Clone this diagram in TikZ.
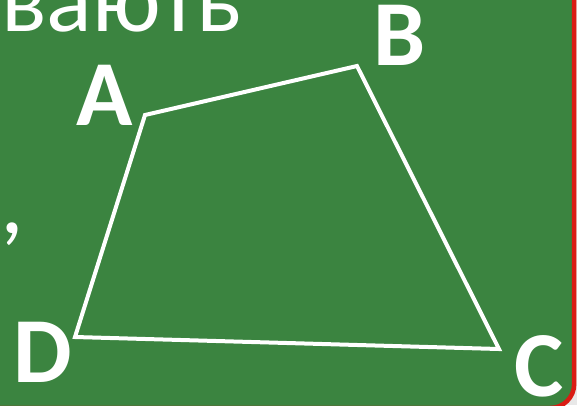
\documentclass[tikz,border=0pt]{standalone}
\usepackage{fontspec}
\setmainfont{Carlito}
\definecolor{board}{RGB}{59,132,64}
\definecolor{rim}{RGB}{218,28,20}
\definecolor{outside}{RGB}{232,232,232}
\begin{document}
\begin{tikzpicture}[x=1pt,y=-1pt,
  edge/.style={draw=white,line width=4pt,line join=miter},
  vlabel/.style={text=white,font=\fontsize{93}{93}\selectfont\bfseries,inner sep=0pt},
  wording/.style={text=white,font=\fontsize{95}{95}\selectfont,inner sep=0pt}]
\useasboundingbox (0,0) rectangle (577,405);
\fill[outside] (0,0) rectangle (577,405);
\draw[fill=board,draw=rim,line width=4.5pt,rounded corners=24pt] (-60,-60) rectangle (574.2,408);
\node[wording,anchor=base west] (top) at (1,31) {вають};
\node[wording,anchor=base west] (comma) at (0,233) {,};
\coordinate (A) at (145,115);
\coordinate (B) at (357,66);
\coordinate (C) at (499,349);
\coordinate (D) at (75,337);
\draw[edge] (A) -- (B) -- (C) -- (D) -- cycle;
\node[vlabel,anchor=base] (la) at (105,125) {A};
\node[vlabel,anchor=base] (lb) at (400,65) {B};
\node[vlabel,anchor=base] (lc) at (539,396) {C};
\node[vlabel,anchor=base] (ld) at (43,382) {D};
\end{tikzpicture}
\end{document}
